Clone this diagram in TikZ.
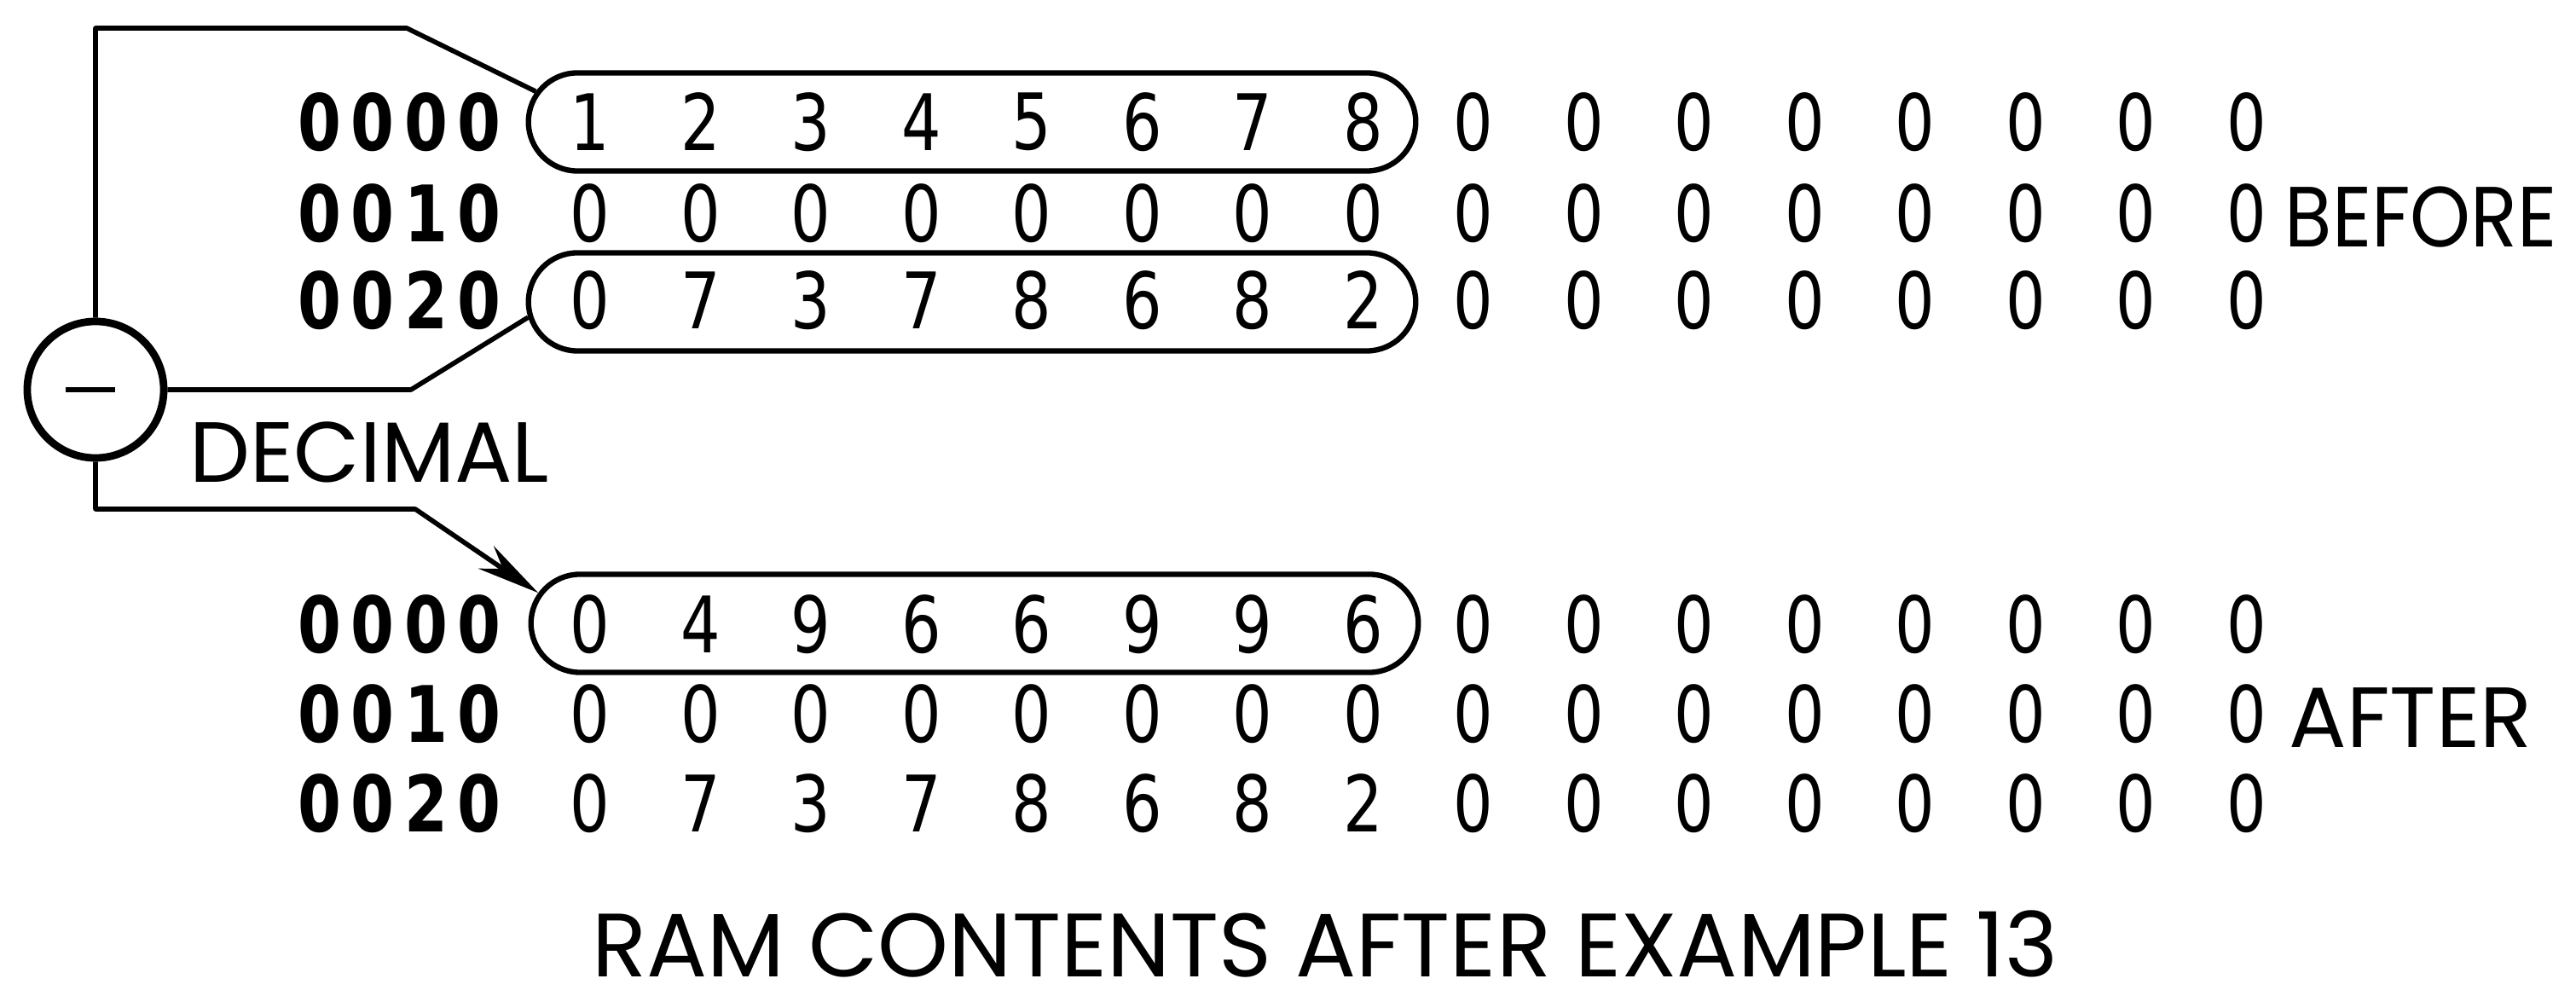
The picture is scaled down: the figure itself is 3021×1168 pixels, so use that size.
\documentclass[tikz,border=0pt]{standalone}
\usepackage{fontspec}
\setmainfont{Poppins}
\newfontfamily\digfont{DejaVu Sans}
\usetikzlibrary{shapes.misc,arrows.meta,calc}
\begin{document}
\begin{tikzpicture}[x=0.01cm,y=-0.01cm,
  conn/.style={line width=1.6pt, line join=round},
  regbox/.style={rounded rectangle, draw, line width=1.8pt, minimum width=10.4cm, minimum height=1.15cm, inner sep=0pt},
  addr/.style={font=\digfont\bfseries\fontsize{26}{26}\selectfont, inner sep=0pt},
  dat/.style={font=\digfont\fontsize{26}{26}\selectfont, inner sep=0pt},
  lbl/.style={font=\fontsize{28.5}{30}\selectfont, inner sep=0pt, anchor=base west, text depth=0pt},
]
\useasboundingbox (0,0) rectangle (3021,1168);

\node[regbox] (b1) at (1140,143) {};
\node[regbox] (b2) at (1140,354) {};
\node[regbox] (b3) at (1143,731) {};

\foreach \rn/\yy/\ad/\vals in {
  bA/143/{0,0,0,0}/{1,2,3,4,5,6,7,8,0,0,0,0,0,0,0,0},
  bB/250/{0,0,1,0}/{0,0,0,0,0,0,0,0,0,0,0,0,0,0,0,0},
  bC/352/{0,0,2,0}/{0,7,3,7,8,6,8,2,0,0,0,0,0,0,0,0},
  aA/732/{0,0,0,0}/{0,4,9,6,6,9,9,6,0,0,0,0,0,0,0,0},
  aB/837/{0,0,1,0}/{0,0,0,0,0,0,0,0,0,0,0,0,0,0,0,0},
  aC/942/{0,0,2,0}/{0,7,3,7,8,6,8,2,0,0,0,0,0,0,0,0}} {
  \foreach \ch [count=\k from 0] in \ad {
    \node[addr] (\rn-a\k) at ({375+62.3*\k},\yy) {\scalebox{0.8}[1]{\ch}};
  }
  \foreach \v [count=\i from 0] in \vals {
    \node[dat] (\rn-d\i) at ({692+129.5*\i},\yy) {\scalebox{0.8}[1]{\v}};
  }
}

\node[circle, draw, line width=2.5pt, minimum size=1.6cm, inner sep=0pt] (c) at (112,457) {};
\draw[line width=1.8pt] ($(c.center)+(-35,0)$) -- ($(c.center)+(23,0)$);

\coordinate (t2) at (477,33);
\coordinate (r2) at (482,457);
\coordinate (k2) at (487,597);
\draw[conn] (c.north) |- (t2) -- (b1.176.6);
\draw[conn] (c.east) -- (r2) -- (b2.182.9);
\draw[conn, -{Stealth[length=0.74cm,width=0.32cm]}] (c.south) |- (k2) -- (b3.176);

\node[lbl] (dec) at (222,566) {DECIMAL};
\node[lbl] (bef) at (2679,290) {\scalebox{0.9}[1]{BEFORE}};
\node[lbl] (aft) at (2684,877) {AFTER};
\node[font=\fontsize{30}{31}\selectfont, inner sep=0pt, anchor=base, text depth=0pt] (cap) at (1554,1146) {RAM CONTENTS AFTER EXAMPLE 13};
\end{tikzpicture}
\end{document}
